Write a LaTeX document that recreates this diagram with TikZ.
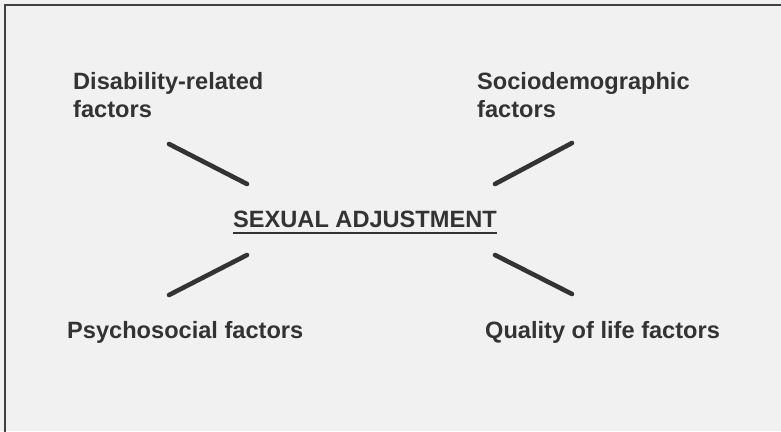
\documentclass[tikz,border=0pt]{standalone}
\usepackage{fontspec}
\setmainfont{Liberation Sans}
\definecolor{paper}{HTML}{F1F1F1}
\definecolor{ink}{HTML}{333333}
\tikzset{
	factor/.style={anchor=base west, inner sep=0pt, align=left, text=ink,
		font=\fontsize{23.6}{28}\selectfont\bfseries},
	bar/.style={draw=ink, line width=4.6pt, line cap=round},
}
\begin{document}
\begin{tikzpicture}[x=1pt, y=-1pt]
	\fill [paper] (0,0) rectangle (781,431);
	\useasboundingbox (0,0) rectangle (781,431);
	\draw [line width=2pt, black!75] (5,440) -- (5,5) -- (790,5); % frame, cut off at right and bottom
	
	% two-line labels sit on the baseline of their last line
	\node (dis) at (73,117) [factor] {Disability-related\\factors};
	\node (soc) at (477,117) [factor] {Sociodemographic\\factors};
	\node (psy) at (67,338) [factor] {Psychosocial factors};
	\node (qol) at (485,338) [factor] {Quality of life factors};
	\node (sa) at (233,227) [factor] {SEXUAL ADJUSTMENT};
	\draw [line width=2pt, ink] ([yshift=-6pt]sa.base west) -- ([yshift=-6pt]sa.base east);
	
	\foreach \n/\s/\t/\u/\v in {dis/169/144/247/184, soc/495/184/572/143, psy/169/295/247/255, qol/495/255/572/294}
	{
		\coordinate (\n a) at (\s,\t);
		\coordinate (\n b) at (\u,\v);
		\draw [bar] (\n a) -- (\n b);
	}
	
\end{tikzpicture}
\end{document}
